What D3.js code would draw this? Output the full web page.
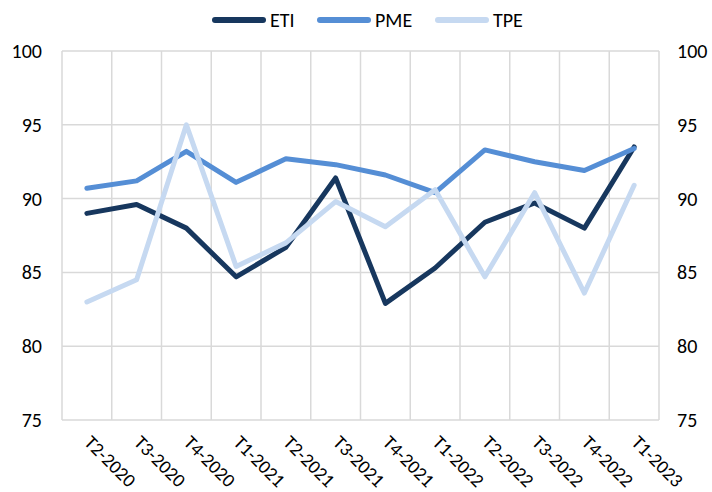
<!DOCTYPE html>
<html>
<head>
<meta charset="utf-8">
<script src="https://d3js.org/d3.v7.min.js"></script>
<style>
  body { margin: 0; background: #fff; }
  svg text { font-family: Calibri, Carlito, "Liberation Sans", sans-serif; fill: #000; }
</style>
</head>
<body>
<div id="chart"></div>
<script>
// trimestres
var categories = ["T2-2020", "T3-2020", "T4-2020", "T1-2021", "T2-2021", "T3-2021",
                  "T4-2021", "T1-2022", "T2-2022", "T3-2022", "T4-2022", "T1-2023"];
var eti = [89.0, 89.6, 88.0, 84.7, 86.7, 91.4, 82.9, 85.3, 88.4, 89.7, 88.0, 93.5];
var pme = [90.7, 91.2, 93.2, 91.1, 92.7, 92.3, 91.6, 90.4, 93.3, 92.5, 91.9, 93.4];
var tpe = [83.0, 84.5, 95.0, 85.4, 87.0, 89.8, 88.1, 90.6, 84.7, 90.4, 83.6, 90.9];
var yTicks = [75, 80, 85, 90, 95, 100];

var series = [
  { name: "ETI", values: eti, color: "#17375e" },
  { name: "PME", values: pme, color: "#558ed5" },
  { name: "TPE", values: tpe, color: "#c6d9f1" }
];

var width = 712, height = 492;
var margin = { top: 51, right: 53, bottom: 72, left: 62 };
var font = "Calibri, Carlito, 'Liberation Sans', sans-serif";

var svg = d3.select("#chart").append("svg")
    .attr("width", width)
    .attr("height", height);

var x = d3.scaleBand()
    .domain(categories)
    .range([margin.left, width - margin.right]);

var y = d3.scaleLinear()
    .domain([75, 100])
    .range([height - margin.bottom, margin.top]);

// grille horizontale
svg.append("g")
  .selectAll("line")
  .data(yTicks)
  .enter().append("line")
    .attr("x1", margin.left)
    .attr("x2", width - margin.right)
    .attr("y1", function(d) { return y(d); })
    .attr("y2", function(d) { return y(d); })
    .attr("stroke", "#d9d9d9")
    .attr("stroke-width", 1.5);

// grille verticale (limites des catégories)
var bounds = categories.map(function(c) { return x(c); }).concat([x.range()[1]]);
svg.append("g")
  .selectAll("line")
  .data(bounds)
  .enter().append("line")
    .attr("x1", function(d) { return d; })
    .attr("x2", function(d) { return d; })
    .attr("y1", margin.top)
    .attr("y2", height - margin.bottom)
    .attr("stroke", "#d9d9d9")
    .attr("stroke-width", 1.5);

// axes gauche et droit
var leftAxis = d3.axisLeft(y).tickValues(yTicks).tickSize(0).tickPadding(0);
var rightAxis = d3.axisRight(y).tickValues(yTicks).tickSize(0).tickPadding(0);

var gl = svg.append("g")
    .attr("transform", "translate(" + (margin.left - 20) + ",0)")
    .call(leftAxis);
var gr = svg.append("g")
    .attr("transform", "translate(" + (width - margin.right + 18) + ",0)")
    .call(rightAxis);
[gl, gr].forEach(function(g) {
  g.select(".domain").remove();
  g.selectAll("text").attr("font-size", 20).style("font-family", font);
});

// étiquettes de l'axe x, inclinées
var gx = svg.append("g")
    .attr("transform", "translate(0," + (height - margin.bottom) + ")")
    .call(d3.axisBottom(x).tickSize(0).tickPadding(0));
gx.select(".domain").remove();
gx.selectAll("text")
    .attr("font-size", 19)
    .style("font-family", font)
    .attr("text-anchor", "start")
    .attr("y", 0)
    .attr("dy", "0.64em")
    .attr("transform", "translate(5,15) rotate(45)");

// courbes
var line = d3.line()
    .x(function(d, i) { return x(categories[i]) + x.bandwidth() / 2; })
    .y(function(d) { return y(d); });

svg.append("g")
  .selectAll("path")
  .data(series)
  .enter().append("path")
    .attr("d", function(s) { return line(s.values); })
    .attr("fill", "none")
    .attr("stroke", function(s) { return s.color; })
    .attr("stroke-width", 5)
    .attr("stroke-linejoin", "round")
    .attr("stroke-linecap", "round");

// légende
var legendX = [215, 320, 438];
var legend = svg.append("g")
  .selectAll("g")
  .data(series)
  .enter().append("g")
    .attr("transform", function(s, i) { return "translate(" + legendX[i] + ",20)"; });
legend.append("line")
    .attr("x1", 0).attr("x2", 48)
    .attr("stroke", function(s) { return s.color; })
    .attr("stroke-width", 6)
    .attr("stroke-linecap", "round");
legend.append("text")
    .attr("x", 55)
    .attr("dy", "0.35em")
    .attr("font-size", 20)
    .text(function(s) { return s.name; });
</script>
</body>
</html>
